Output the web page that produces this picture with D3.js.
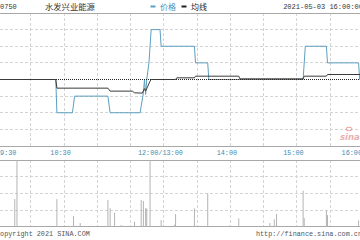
<!DOCTYPE html>
<html>
<head>
<meta charset="utf-8">
<script src="https://cdn.jsdelivr.net/npm/d3@7"></script>
<style>
  html, body { margin: 0; padding: 0; background: #fff; overflow: hidden; }
  svg { display: block; }
  .mono { font-family: "Liberation Mono", "DejaVu Sans Mono", monospace; }
  .cjk { font-family: "Noto Sans CJK SC", "Noto Sans", sans-serif; }
</style>
</head>
<body>
<svg id="chart"></svg>
<script>
// Header texts
const stockCode = '00750';
const stockName = '水发兴业能源';
const quoteTime = '2021-05-03 16:00:00';
const legendNames = ['价格', '均线'];
const copyText = 'Copyright 2021 SINA.COM';
const urlText = 'http://finance.sina.com.cn';

// Previous close (dotted reference line)
const prevClose = 0.60;

// Price line
const priceTimes = ['09:30', '10:23', '10:24', '10:38', '10:40', '11:10', '11:12', '11:39',
    '11:42', '11:43', '11:44', '11:45', '11:47', '11:49', '11:57', '11:58',
    '13:28', '13:29', '13:40', '13:41', '15:06', '15:08', '15:27', '15:28',
    '15:56', '15:57', '16:00'];
const priceValues = [0.600, 0.600, 0.580, 0.580, 0.590, 0.590, 0.580, 0.580,
    0.592, 0.600, 0.591, 0.600, 0.610, 0.630, 0.630, 0.620,
    0.620, 0.610, 0.610, 0.600, 0.600, 0.620, 0.620, 0.610,
    0.610, 0.600, 0.600];

// Average price line
const avgTimes = ['09:30', '10:23', '10:24', '11:10', '11:12', '11:32', '11:34', '11:41',
    '11:43', '11:44', '11:46', '11:48', '11:49', '13:11', '13:12', '13:28',
    '13:29', '14:08', '14:09', '15:06', '15:07', '15:27', '15:28', '16:00'];
const avgValues = [0.6000, 0.6000, 0.5948, 0.5948, 0.5930, 0.5930, 0.5920, 0.5918,
    0.5945, 0.5930, 0.5960, 0.5990, 0.6000, 0.6000, 0.6010, 0.6010,
    0.6020, 0.6020, 0.6004, 0.6004, 0.6020, 0.6020, 0.6030, 0.6030];

// Volume bars (shares)
const volTimes = ['09:46', '09:48', '10:24', '10:39', '10:45', '11:10', '11:12', '11:16',
    '11:22', '11:34', '11:40', '11:42', '11:44', '11:45', '11:48', '11:58',
    '13:00', '13:10', '13:11', '13:28', '13:40', '13:59', '14:08', '14:36',
    '14:40', '14:42', '15:06', '15:07', '15:27', '15:28', '15:56'];
const volValues = [415000, 990000, 415000, 160000, 55000, 400000, 275000, 210000,
    25000, 75000, 400000, 385000, 275000, 275000, 1000000, 100000,
    20000, 30000, 190000, 275000, 500000, 15000, 125000, 55000,
    110000, 190000, 540000, 130000, 245000, 175000, 95000];

// Time axis labels
const tickTimes = ['09:30', '10:30', '12:00', '14:00', '15:00', '16:00'];
const tickLabels = ['09:30', '10:30', '12:00/13:00', '14:00', '15:00', '16:00'];

const W = 360, H = 240;
const priceTop = 13, priceBottom = 146;
const volTop = 160, volBottom = 226.7;

// Trading minutes since 09:30, lunch break removed
function sessionMinutes(t) {
    const [h, m] = t.split(':').map(Number);
    const mins = h * 60 + m;
    return mins <= 12 * 60 ? mins - (9 * 60 + 30) : 150 + mins - 13 * 60;
}

const svg = d3.select('#chart').attr('width', W).attr('height', H);

const x = d3.scaleLinear().domain([0, 330]).range([-3, 363]);
const y = d3.scaleLinear().domain([prevClose - 0.04, prevClose + 0.04]).range([priceBottom, priceTop]);
const yVol = d3.scaleLinear().domain([0, d3.max(volValues)]).range([volBottom, volTop]);

// Grid: dashed lines every 30 minutes, price every tick, volume every quarter
const gridMinutes = d3.range(0, 331, 30);
const grid = svg.append('g')
    .attr('stroke', '#d4d4d4')
    .attr('stroke-dasharray', '3,2')
    .attr('shape-rendering', 'crispEdges');

grid.selectAll('.vp').data(gridMinutes).enter().append('line')
    .attr('x1', d => Math.round(x(d)) + 0.5).attr('x2', d => Math.round(x(d)) + 0.5)
    .attr('y1', priceTop).attr('y2', priceBottom);
grid.selectAll('.vv').data(gridMinutes).enter().append('line')
    .attr('x1', d => Math.round(x(d)) + 0.5).attr('x2', d => Math.round(x(d)) + 0.5)
    .attr('y1', volTop).attr('y2', volBottom);
grid.selectAll('.hp').data(y.ticks(8).filter(v => Math.abs(v - prevClose) > 1e-6)).enter().append('line')
    .attr('x1', 0).attr('x2', W)
    .attr('y1', d => y(d)).attr('y2', d => y(d));
grid.selectAll('.hv').data([0.25, 0.5, 0.75]).enter().append('line')
    .attr('x1', 0).attr('x2', W)
    .attr('y1', d => yVol(d * yVol.domain()[1]))
    .attr('y2', d => yVol(d * yVol.domain()[1]));

// Panel borders
const borders = svg.append('g').attr('stroke', '#a8a8a8').attr('shape-rendering', 'crispEdges');
[priceTop, priceBottom, volTop, volBottom].forEach(v => {
    borders.append('line').attr('x1', 0).attr('x2', W).attr('y1', v).attr('y2', v);
});

// Volume bars
svg.append('g').selectAll('rect')
    .data(volTimes.map((t, i) => ({t: sessionMinutes(t), v: volValues[i]})))
    .enter().append('rect')
    .attr('x', d => x(d.t) - 0.5)
    .attr('width', 1)
    .attr('y', d => yVol(d.v))
    .attr('height', d => volBottom - yVol(d.v))
    .attr('fill', '#b4b4b4');

// Price line
const line = d3.line().x(d => x(d.t)).y(d => y(d.v));
const priceData = priceTimes.map((t, i) => ({t: sessionMinutes(t), v: priceValues[i]}));
const avgData = avgTimes.map((t, i) => ({t: sessionMinutes(t), v: avgValues[i]}));

svg.append('path')
    .attr('d', line(priceData))
    .attr('fill', 'none')
    .attr('stroke', '#5d9fc0')
    .attr('stroke-width', 1);

// Previous close dotted line
svg.append('line')
    .attr('x1', 0).attr('x2', W)
    .attr('y1', y(prevClose)).attr('y2', y(prevClose))
    .attr('stroke', '#222')
    .attr('stroke-dasharray', '1,1');

// Average line
svg.append('path')
    .attr('d', line(avgData))
    .attr('fill', 'none')
    .attr('stroke', '#3a3a3a')
    .attr('stroke-width', 1);

// Watermark
const mark = svg.append('g').attr('fill', '#eab0b0');
mark.append('ellipse').attr('cx', 349).attr('cy', 129).attr('rx', 3).attr('ry', 1.8)
    .attr('fill', 'none').attr('stroke', '#e48a8a').attr('stroke-width', 0.8);
mark.append('text').attr('x', 340).attr('y', 140)
    .style('font-family', 'DejaVu Sans, sans-serif')
    .style('font-size', '8.5px').style('font-style', 'italic').style('font-weight', 'bold')
    .text('sina');

// Time axis labels
const tickMinutes = tickTimes.map(sessionMinutes);
svg.append('g').selectAll('text')
    .data(tickLabels)
    .enter().append('text')
    .attr('class', 'mono')
    .attr('x', (d, i) => i === 0 || i === tickLabels.length - 1 ? x(tickMinutes[i]) - 1 : x(tickMinutes[i]) - 3)
    .attr('y', 155)
    .attr('text-anchor', (d, i) => i === 0 ? 'start' : i === tickLabels.length - 1 ? 'end' : 'middle')
    .attr('fill', '#3c8cb4')
    .style('font-size', '6.8px')
    .text(d => d);

// Header
svg.append('text').attr('class', 'mono').attr('x', -4.2).attr('y', 9)
    .attr('fill', '#333').style('font-size', '7px').text(stockCode);
svg.append('text').attr('class', 'cjk').attr('x', 45).attr('y', 9.5)
    .attr('fill', '#333').style('font-size', '8.3px').text(stockName);

const legendColors = ['#5d9fc0', '#222'];
const legendX = [150.5, 181.5];
legendNames.forEach((name, i) => {
    svg.append('rect').attr('x', legendX[i]).attr('y', 5.5).attr('width', 5).attr('height', 2)
        .attr('fill', legendColors[i]);
    svg.append('text').attr('class', 'cjk').attr('x', legendX[i] + 9.5).attr('y', 9.5)
        .attr('fill', i === 0 ? '#4a90b8' : '#222').style('font-size', '8px').text(name);
});

svg.append('text').attr('class', 'mono').attr('x', 363).attr('y', 9)
    .attr('text-anchor', 'end').attr('fill', '#333').style('font-size', '7px').text(quoteTime);

// Footer
svg.append('text').attr('class', 'mono').attr('x', -4).attr('y', 236)
    .attr('fill', '#555').style('font-size', '6.8px').text(copyText);
svg.append('text').attr('class', 'mono').attr('x', 362).attr('y', 236)
    .attr('text-anchor', 'end').attr('fill', '#555').style('font-size', '6.8px').text(urlText);
</script>
</body>
</html>
